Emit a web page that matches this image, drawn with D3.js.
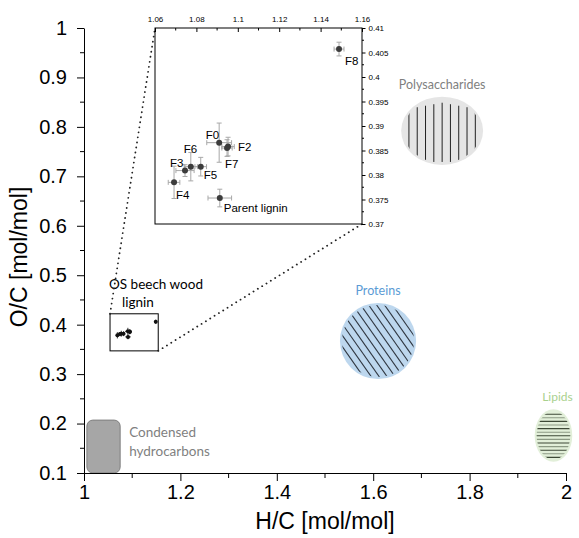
<!DOCTYPE html>
<html>
<head>
<meta charset="utf-8">
<script src="https://cdn.jsdelivr.net/npm/d3@7"></script>
<style>
body { margin: 0; background: #fff; }
svg { display: block; }
.axis text { font-family: "Liberation Sans", Arial, sans-serif; fill: #000; }
.axis path, .axis line { stroke: #000; }
.note { font-family: Lato, "Open Sans", sans-serif; }
</style>
</head>
<body>
<svg id="chart" width="579" height="538"></svg>
<script>
'use strict'

// main axes ticks
const xTicks = [1, 1.2, 1.4, 1.6, 1.8, 2]
const xMinor = [1.1, 1.3, 1.5, 1.7, 1.9]
const yTicks = [0.1, 0.2, 0.3, 0.4, 0.5, 0.6, 0.7, 0.8, 0.9, 1]
const yMinor = [0.15, 0.25, 0.35, 0.45, 0.55, 0.65, 0.75, 0.85, 0.95]

// lignin fractions (H/C, O/C with error)
const names = ['F0', 'F2', 'F7', 'F6', 'F3', 'F5', 'F4', 'F8', 'Parent lignin']
const hc    = [1.0910, 1.0953, 1.0948, 1.0773, 1.0745, 1.0821, 1.0692, 1.1489, 1.0913]
const oc    = [0.3866, 0.3858, 0.3855, 0.3817, 0.3809, 0.3817, 0.3785, 0.4057, 0.3753]
const hcErr = [0.0060, 0.0030, 0.0025, 0.0032, 0.0044, 0.0028, 0.0028, 0.0024, 0.0057]
const ocErr = [0.0040, 0.0019, 0.0017, 0.0029, 0.0012, 0.0019, 0.0033, 0.0014, 0.0018]

// inset ticks
const insetXTicks = [1.06, 1.08, 1.1, 1.12, 1.14, 1.16]
const insetXMinor = [1.07, 1.09, 1.11, 1.13, 1.15]
const insetYTicks = [0.37, 0.375, 0.38, 0.385, 0.39, 0.395, 0.4, 0.405, 0.41]
const insetYMinor = [0.3725, 0.3775, 0.3825, 0.3875, 0.3925, 0.3975, 0.4025, 0.4075]

// compound class regions (centre and half widths in H/C, O/C)
const regionNames = ['Polysaccharides', 'Proteins', 'Lipids']
const regionHC    = [1.743, 1.610, 1.974]
const regionOC    = [0.792, 0.367, 0.176]
const regionHCr   = [0.085, 0.079, 0.039]
const regionOCr   = [0.069, 0.077, 0.053]
const condensedHC = [1.006, 1.075]
const condensedOC = [0.1, 0.207]
const zoomBoxHC   = [1.054, 1.154]
const zoomBoxOC   = [0.347, 0.422]

const fmt = d => String(+d.toFixed(4))

const svg = d3.select('#chart')

const x = d3.scaleLinear().domain([1, 2]).range([84, 566])
const y = d3.scaleLinear().domain([0.1, 1]).range([473, 28])

// inset scales
const xi = d3.scaleLinear().domain([1.06, 1.16]).range([155, 362])
const yi = d3.scaleLinear().domain([0.37, 0.41]).range([224, 28])

// ---- regions ----
const defs = svg.append('defs')
const regionStyle = [
  {fill: '#e5e5e5', text: '#7f7f7f'},
  {fill: '#bdd7ee', text: '#5b9bd5'},
  {fill: '#e2efd9', text: '#a9d18e'}
]
regionNames.forEach((name, i) => {
  const cx = x(regionHC[i]), cy = y(regionOC[i])
  const rx = x(regionHC[i] + regionHCr[i]) - cx
  const ry = cy - y(regionOC[i] + regionOCr[i])
  svg.append('ellipse')
    .attr('cx', cx).attr('cy', cy).attr('rx', rx).attr('ry', ry)
    .attr('fill', regionStyle[i].fill)
  defs.append('clipPath').attr('id', 'clip' + i)
    .append('ellipse')
      .attr('cx', cx).attr('cy', cy).attr('rx', rx - 2).attr('ry', ry - 2)
  const hatch = svg.append('g').attr('clip-path', 'url(#clip' + i + ')')
  if (i === 0) { // vertical lines
    for (let k = -4; k <= 4; k++) {
      hatch.append('line')
        .attr('x1', cx + k * 8.3).attr('x2', cx + k * 8.3)
        .attr('y1', cy - ry + 6 + Math.abs(k) * 1.5).attr('y2', cy + ry - 3)
        .attr('stroke', '#222').attr('stroke-width', 1)
    }
  } else if (i === 1) { // diagonal lines
    const a = 55 * Math.PI / 180
    const dx = Math.cos(a), dy = Math.sin(a)
    for (let k = -7; k <= 6; k++) {
      const ox = cx + k * 6.5 * dy, oy = cy - k * 6.5 * dx
      hatch.append('line')
        .attr('x1', ox - dx * 60).attr('y1', oy - dy * 60)
        .attr('x2', ox + dx * 60).attr('y2', oy + dy * 60)
        .attr('stroke', '#2f3640').attr('stroke-width', 1.1)
    }
  } else { // horizontal lines
    for (let k = 0; k < 14; k++) {
      const yy = cy - ry + 5 + k * 3.6
      hatch.append('line')
        .attr('x1', cx - rx).attr('x2', cx + rx)
        .attr('y1', yy).attr('y2', yy)
        .attr('stroke', k % 2 ? '#8c9a84' : '#3d4936').attr('stroke-width', 1.1)
    }
  }
  svg.append('text').attr('class', 'note')
    .attr('x', cx + (i === 2 ? 4 : 0)).attr('y', cy - ry - 8)
    .attr('text-anchor', 'middle')
    .attr('font-size', i === 2 ? 12 : 12.5)
    .attr('fill', regionStyle[i].text)
    .text(name)
})

// condensed hydrocarbons
svg.append('rect')
  .attr('x', x(condensedHC[0])).attr('y', y(condensedOC[1]))
  .attr('width', x(condensedHC[1]) - x(condensedHC[0]))
  .attr('height', y(condensedOC[0]) - y(condensedOC[1]))
  .attr('rx', 6)
  .attr('fill', '#a6a6a6').attr('stroke', '#7f7f7f')
svg.append('text').attr('class', 'note')
  .attr('font-size', 13.5).attr('fill', '#7f7f7f')
  .selectAll('tspan').data(['Condensed', 'hydrocarbons']).enter()
  .append('tspan')
    .attr('x', x(condensedHC[1]) + 9)
    .attr('y', (d, i) => y(condensedOC[1]) + 17 + i * 19)
    .text(d => d)

// ---- main axes ----
const gx = svg.append('g').attr('class', 'axis')
  .attr('transform', 'translate(0,' + y(0.1) + ')')
  .call(d3.axisBottom(x).tickValues(xTicks).tickFormat(fmt).tickSize(8).tickSizeOuter(0).tickPadding(4))
gx.selectAll('text').attr('font-size', 20)
gx.selectAll('.minor').data(xMinor).enter().append('line')
  .attr('x1', d => x(d)).attr('x2', d => x(d)).attr('y1', 0).attr('y2', 5)

const gy = svg.append('g').attr('class', 'axis')
  .attr('transform', 'translate(' + x(1) + ',0)')
  .call(d3.axisLeft(y).tickValues(yTicks).tickFormat(fmt).tickSize(7).tickSizeOuter(0).tickPadding(10))
gy.selectAll('text').attr('font-size', 20)
gy.selectAll('.minor').data(yMinor).enter().append('line')
  .attr('y1', d => y(d)).attr('y2', d => y(d)).attr('x1', 0).attr('x2', -4)

svg.append('text')
  .attr('x', 325).attr('y', 529)
  .attr('text-anchor', 'middle')
  .attr('font-family', '"Liberation Sans", Arial, sans-serif')
  .attr('font-size', 23)
  .text('H/C [mol/mol]')
svg.append('text')
  .attr('transform', 'translate(27,257) rotate(-90)')
  .attr('text-anchor', 'middle')
  .attr('font-family', '"Liberation Sans", Arial, sans-serif')
  .attr('font-size', 23)
  .text('O/C [mol/mol]')

// ---- zoom box in main plot ----
svg.append('rect')
  .attr('x', x(zoomBoxHC[0])).attr('y', y(zoomBoxOC[1]))
  .attr('width', x(zoomBoxHC[1]) - x(zoomBoxHC[0]))
  .attr('height', y(zoomBoxOC[0]) - y(zoomBoxOC[1]))
  .attr('fill', 'none').attr('stroke', '#000').attr('stroke-width', 1)
svg.append('text').attr('class', 'note')
  .attr('font-size', 13.5).attr('fill', '#000')
  .selectAll('tspan').data(['OS beech wood', 'lignin']).enter()
  .append('tspan')
    .attr('x', (d, i) => i ? 122 : 109)
    .attr('y', (d, i) => 289 + i * 18)
    .text(d => d)

// dotted connector lines
const dots = [
  [[x(zoomBoxHC[0]), y(zoomBoxOC[1])], [xi(1.06), yi(0.41)]],
  [[x(zoomBoxHC[1]), y(zoomBoxOC[0])], [xi(1.16), yi(0.37)]]
]
svg.selectAll('.conn').data(dots).enter().append('line')
  .attr('x1', d => d[0][0]).attr('y1', d => d[0][1])
  .attr('x2', d => d[1][0]).attr('y2', d => d[1][1])
  .attr('stroke', '#222').attr('stroke-width', 1.8)
  .attr('stroke-dasharray', '0.1,5').attr('stroke-linecap', 'round')

// small points in main plot
const pts = names.map((n, i) => ({name: n, hc: hc[i], oc: oc[i], he: hcErr[i], oe: ocErr[i]}))
const mainPts = svg.append('g')
mainPts.selectAll('.eh').data(pts).enter().append('line')
  .attr('x1', d => x(d.hc - d.he)).attr('x2', d => x(d.hc + d.he))
  .attr('y1', d => y(d.oc)).attr('y2', d => y(d.oc))
  .attr('stroke', '#333')
mainPts.selectAll('.ev').data(pts).enter().append('line')
  .attr('y1', d => y(d.oc - d.oe) + 1.5).attr('y2', d => y(d.oc + d.oe) - 1.5)
  .attr('x1', d => x(d.hc)).attr('x2', d => x(d.hc))
  .attr('stroke', '#333')
mainPts.selectAll('circle').data(pts).enter().append('circle')
  .attr('cx', d => x(d.hc)).attr('cy', d => y(d.oc)).attr('r', 2)
  .attr('fill', '#111')

// ---- inset ----
const inset = svg.append('g')
inset.append('rect')
  .attr('x', xi(1.06)).attr('y', yi(0.41))
  .attr('width', xi(1.16) - xi(1.06)).attr('height', yi(0.37) - yi(0.41))
  .attr('fill', '#fff').attr('stroke', '#000').attr('stroke-width', 1)

const gxi = inset.append('g').attr('class', 'axis')
  .attr('transform', 'translate(0,' + yi(0.41) + ')')
  .call(d3.axisTop(xi).tickValues(insetXTicks).tickFormat(fmt).tickSize(-4).tickSizeOuter(0).tickPadding(6))
gxi.select('.domain').remove()
gxi.selectAll('text').attr('font-size', 8)
gxi.selectAll('.minor').data(insetXMinor).enter().append('line')
  .attr('x1', d => xi(d)).attr('x2', d => xi(d)).attr('y1', 0).attr('y2', 2.5)

const gyi = inset.append('g').attr('class', 'axis')
  .attr('transform', 'translate(' + xi(1.16) + ',0)')
  .call(d3.axisRight(yi).tickValues(insetYTicks).tickFormat(fmt).tickSize(3.5).tickSizeOuter(0).tickPadding(3))
gyi.select('.domain').remove()
gyi.selectAll('text').attr('font-size', 8)
gyi.selectAll('.minor').data(insetYMinor).enter().append('line')
  .attr('y1', d => yi(d)).attr('y2', d => yi(d)).attr('x1', 0).attr('x2', 2)

// error bars with caps
const eb = inset.append('g').attr('stroke', '#a8a8a8').attr('stroke-width', 1)
pts.forEach(d => {
  const px = xi(d.hc), py = yi(d.oc)
  const xl = xi(d.hc - d.he), xr = xi(d.hc + d.he)
  const yt = yi(d.oc + d.oe), yb = yi(d.oc - d.oe)
  eb.append('line').attr('x1', xl).attr('x2', xr).attr('y1', py).attr('y2', py)
  eb.append('line').attr('x1', xl).attr('x2', xl).attr('y1', py - 2.5).attr('y2', py + 2.5)
  eb.append('line').attr('x1', xr).attr('x2', xr).attr('y1', py - 2.5).attr('y2', py + 2.5)
  eb.append('line').attr('x1', px).attr('x2', px).attr('y1', yt).attr('y2', yb)
  eb.append('line').attr('x1', px - 2.5).attr('x2', px + 2.5).attr('y1', yt).attr('y2', yt)
  eb.append('line').attr('x1', px - 2.5).attr('x2', px + 2.5).attr('y1', yb).attr('y2', yb)
})
inset.selectAll('circle').data(pts).enter().append('circle')
  .attr('cx', d => xi(d.hc)).attr('cy', d => yi(d.oc)).attr('r', 3)
  .attr('fill', '#3c3c3c')

// label placement: [dx, dy, anchor]
const labelOffset = {
  'F0': [0, -4, 'end'], 'F2': [10, 4, 'start'], 'F7': [-2, 20, 'start'],
  'F6': [-7, -14, 'start'], 'F3': [-15, -4, 'start'], 'F5': [3, 12, 'start'],
  'F4': [2, 17, 'start'], 'F8': [6, 16, 'start'], 'Parent lignin': [4, 14, 'start']
}
inset.selectAll('.lbl').data(pts).enter().append('text')
  .attr('x', d => xi(d.hc) + labelOffset[d.name][0])
  .attr('y', d => yi(d.oc) + labelOffset[d.name][1])
  .attr('text-anchor', d => labelOffset[d.name][2])
  .attr('font-family', '"Liberation Sans", Arial, sans-serif')
  .attr('font-size', 11.5)
  .text(d => d.name)
</script>
</body>
</html>
